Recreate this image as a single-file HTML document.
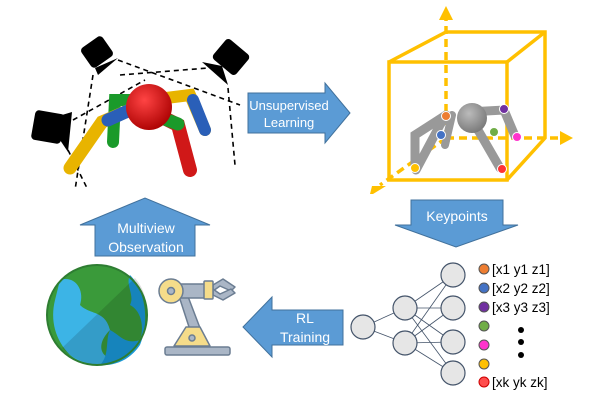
<!DOCTYPE html>
<html><head><style>body{margin:0;background:#fff}svg{display:block}text{font-family:"Liberation Sans",sans-serif}</style></head><body>
<svg width="600" height="400" viewBox="0 0 600 400" xmlns="http://www.w3.org/2000/svg">
<defs>
<radialGradient id="rs" cx="0.4" cy="0.35" r="0.7"><stop offset="0" stop-color="#f44"/><stop offset="1" stop-color="#a00"/></radialGradient>
<radialGradient id="gs" cx="0.4" cy="0.35" r="0.7"><stop offset="0" stop-color="#bbb"/><stop offset="1" stop-color="#777"/></radialGradient>
</defs>
<g stroke="#000" stroke-width="1.6" stroke-dasharray="5,4" fill="none">
<line x1="118" y1="60" x2="240" y2="105"/><line x1="120" y1="75" x2="208" y2="68"/><line x1="93" y1="75" x2="75" y2="190"/>
<line x1="228" y1="88" x2="235" y2="165"/><line x1="73" y1="120" x2="145" y2="80"/><line x1="68" y1="150" x2="88" y2="190"/>
</g>
<g fill="#000">
<rect x="84" y="40" width="26" height="24" rx="4" transform="rotate(-35 97 52)"/><polygon points="95,68 118,58 98,75"/>
<rect x="216" y="44" width="30" height="26" rx="4" transform="rotate(40 231 57)"/><polygon points="202,62 222,66 228,85"/>
<rect x="33" y="112" width="30" height="30" rx="4" transform="rotate(10 48 127)"/><polygon points="62,115 72,112 68,152 60,140"/>
</g>
<g stroke-linecap="round" fill="none">
<path d="M150,100 L190,95 L205,130" stroke="#e8b400" stroke-width="12"/>
<path d="M193,100 L205,130" stroke="#2a5fb8" stroke-width="12"/>
<path d="M148,110 L178,125 L190,170" stroke="#d01818" stroke-width="14"/>
<path d="M162,118 L178,124" stroke="#1a9a2a" stroke-width="13"/>
<path d="M150,100 L115,100 L113,142" stroke="#1a9a2a" stroke-width="12"/>
<path d="M130,110 L102,122 L70,168" stroke="#e8b400" stroke-width="13"/>
<path d="M130,110 L108,120" stroke="#2a5fb8" stroke-width="13"/>
</g>
<circle cx="149" cy="107" r="23" fill="url(#rs)"/>
<g fill="#5b9bd5" stroke="#41719c" stroke-width="1">
<polygon points="248,93 325,93 325,83 350,113 325,143 325,133 248,133"/>
<polygon points="411,200 503,200 503,225 518,225 456,247 395,225 411,225"/>
<polygon points="343,310 272,310 272,297 243,327 272,357 272,345 343,345"/>
<polygon points="95,256 195,256 195,225 210,225 145,198 80,225 95,225"/>
</g>
<g fill="#fff" font-size="14" text-anchor="middle">
<text x="289" y="110" font-size="13">Unsupervised</text><text x="289" y="127" font-size="13">Learning</text>
<text x="457" y="221">Keypoints</text>
<text x="305" y="323">RL</text><text x="305" y="342">Training</text>
<text x="146" y="233">Multiview</text><text x="146" y="252">Observation</text>
</g>
<g stroke="#ffc000" stroke-width="3.5" fill="none">
<rect x="389" y="62" width="118" height="118"/>
<polyline points="389,62 446,32 545,32 545,138 507,180"/><line x1="507" y1="62" x2="545" y2="32"/>
<g stroke-dasharray="8,5"><line x1="446" y1="138" x2="446" y2="18"/><line x1="446" y1="138" x2="562" y2="138"/><line x1="446" y1="138" x2="380" y2="185"/></g>
</g>
<g fill="#ffc000"><polygon points="439,20 453,20 446,6"/><polygon points="560,131 560,145 573,138"/><polygon points="372,186 386,186 373,194 370,194"/></g>
<g stroke-linecap="round" fill="none" stroke="#999">
<path d="M446,115 L415,135 L415,168" stroke-width="9"/>
<path d="M446,115 L440,125 L416,170" stroke-width="9"/>
<path d="M462,120 L478,130 L500,168" stroke-width="9"/>
<path d="M468,112 L504,110 L515,136" stroke-width="9"/>
<path d="M452,115 L445,145" stroke-width="8"/>
</g>
<circle cx="472" cy="118" r="15" fill="url(#gs)"/>
<g stroke="#fff" stroke-width="1">
<circle cx="446" cy="116" r="4.5" fill="#ed7d31"/><circle cx="441" cy="135" r="4.5" fill="#4472c4"/><circle cx="504" cy="109" r="4.5" fill="#7030a0"/>
<circle cx="494" cy="132" r="4.5" fill="#70ad47"/><circle cx="517" cy="137" r="4.5" fill="#ff33cc"/><circle cx="415" cy="168" r="4.5" fill="#ffc000"/><circle cx="502" cy="169" r="4.5" fill="#ff3333"/>
</g>
<g stroke="#44546a" stroke-width="0.8">
<line x1="363" y1="327" x2="405" y2="308"/><line x1="363" y1="327" x2="405" y2="343"/>
<line x1="405" y1="308" x2="453" y2="275"/><line x1="405" y1="308" x2="453" y2="308"/><line x1="405" y1="308" x2="453" y2="342"/><line x1="405" y1="308" x2="453" y2="373"/>
<line x1="405" y1="343" x2="453" y2="275"/><line x1="405" y1="343" x2="453" y2="308"/><line x1="405" y1="343" x2="453" y2="342"/><line x1="405" y1="343" x2="453" y2="373"/>
</g>
<g fill="#e6e6e6" stroke="#44546a" stroke-width="1.2">
<circle cx="363" cy="327" r="12"/><circle cx="405" cy="308" r="12"/><circle cx="405" cy="343" r="12"/>
<circle cx="453" cy="275" r="12"/><circle cx="453" cy="308" r="12"/><circle cx="453" cy="342" r="12"/><circle cx="453" cy="373" r="12"/>
</g>
<g stroke-width="1" stroke="#555">
<circle cx="484" cy="269" r="5" fill="#ed7d31"/><circle cx="484" cy="288" r="5" fill="#4472c4"/><circle cx="484" cy="307" r="5" fill="#7030a0"/>
<circle cx="484" cy="326" r="5" fill="#70ad47"/><circle cx="484" cy="345" r="5" fill="#ff33cc"/><circle cx="484" cy="364" r="5" fill="#ffc000"/><circle cx="484" cy="382" r="5" fill="#ff4d4d" stroke="#c00"/>
</g>
<g font-size="13.5" fill="#000"><text x="492" y="274">[x1 y1 z1]</text><text x="492" y="293">[x2 y2 z2]</text><text x="492" y="312">[x3 y3 z3]</text><text x="492" y="387">[xk yk zk]</text></g>
<g fill="#000"><circle cx="521" cy="330" r="3"/><circle cx="521" cy="342" r="3"/><circle cx="521" cy="355" r="3"/></g>
<circle cx="97" cy="315" r="50" fill="#3a9a3a"/>
<path d="M60,280 C75,275 85,290 80,305 C90,315 105,310 110,330 C95,345 100,360 120,360 C108,366 85,368 70,355 C55,340 50,320 55,300 Z" fill="#3cb4e6"/>
<path d="M110,330 C120,335 125,345 140,340 C145,325 140,310 130,305 C135,295 125,285 130,275 C145,290 150,320 140,345 C130,360 115,366 100,365 C110,355 105,340 110,330 Z" fill="#1a98d8"/>
<path d="M62,348 L135,278 C155,300 150,345 115,362 C95,368 75,362 62,348Z" fill="#000" opacity="0.13"/>
<circle cx="97" cy="315" r="50" fill="none" stroke="#2e7d32" stroke-width="2"/>
<g stroke="#6b7d92" stroke-width="1.5" stroke-linejoin="round">
<rect x="165" y="347" width="65" height="8" rx="2" fill="#aab6c6"/>
<polygon points="177,290 184,286 200,328 190,330" fill="#aab6c6"/>
<rect x="172" y="284" width="34" height="14" fill="#aab6c6"/>
<polygon points="223,279 235,287 231,291 220,286 213,291 213,285" fill="#aab6c6"/>
<polygon points="223,300 235,293 231,289 220,294 213,289 213,295" fill="#aab6c6"/>
<rect x="204" y="281" width="9" height="18" rx="1" fill="#f5dc8a"/>
<polygon points="186,327 200,327 210,346 174,346" fill="#f5dc8a"/>
<circle cx="171" cy="291" r="12" fill="#f5dc8a"/>
<circle cx="171" cy="291" r="3.5" fill="#aab6c6"/><circle cx="192" cy="338" r="3" fill="#aab6c6"/>
</g>
</svg>
</body></html>
